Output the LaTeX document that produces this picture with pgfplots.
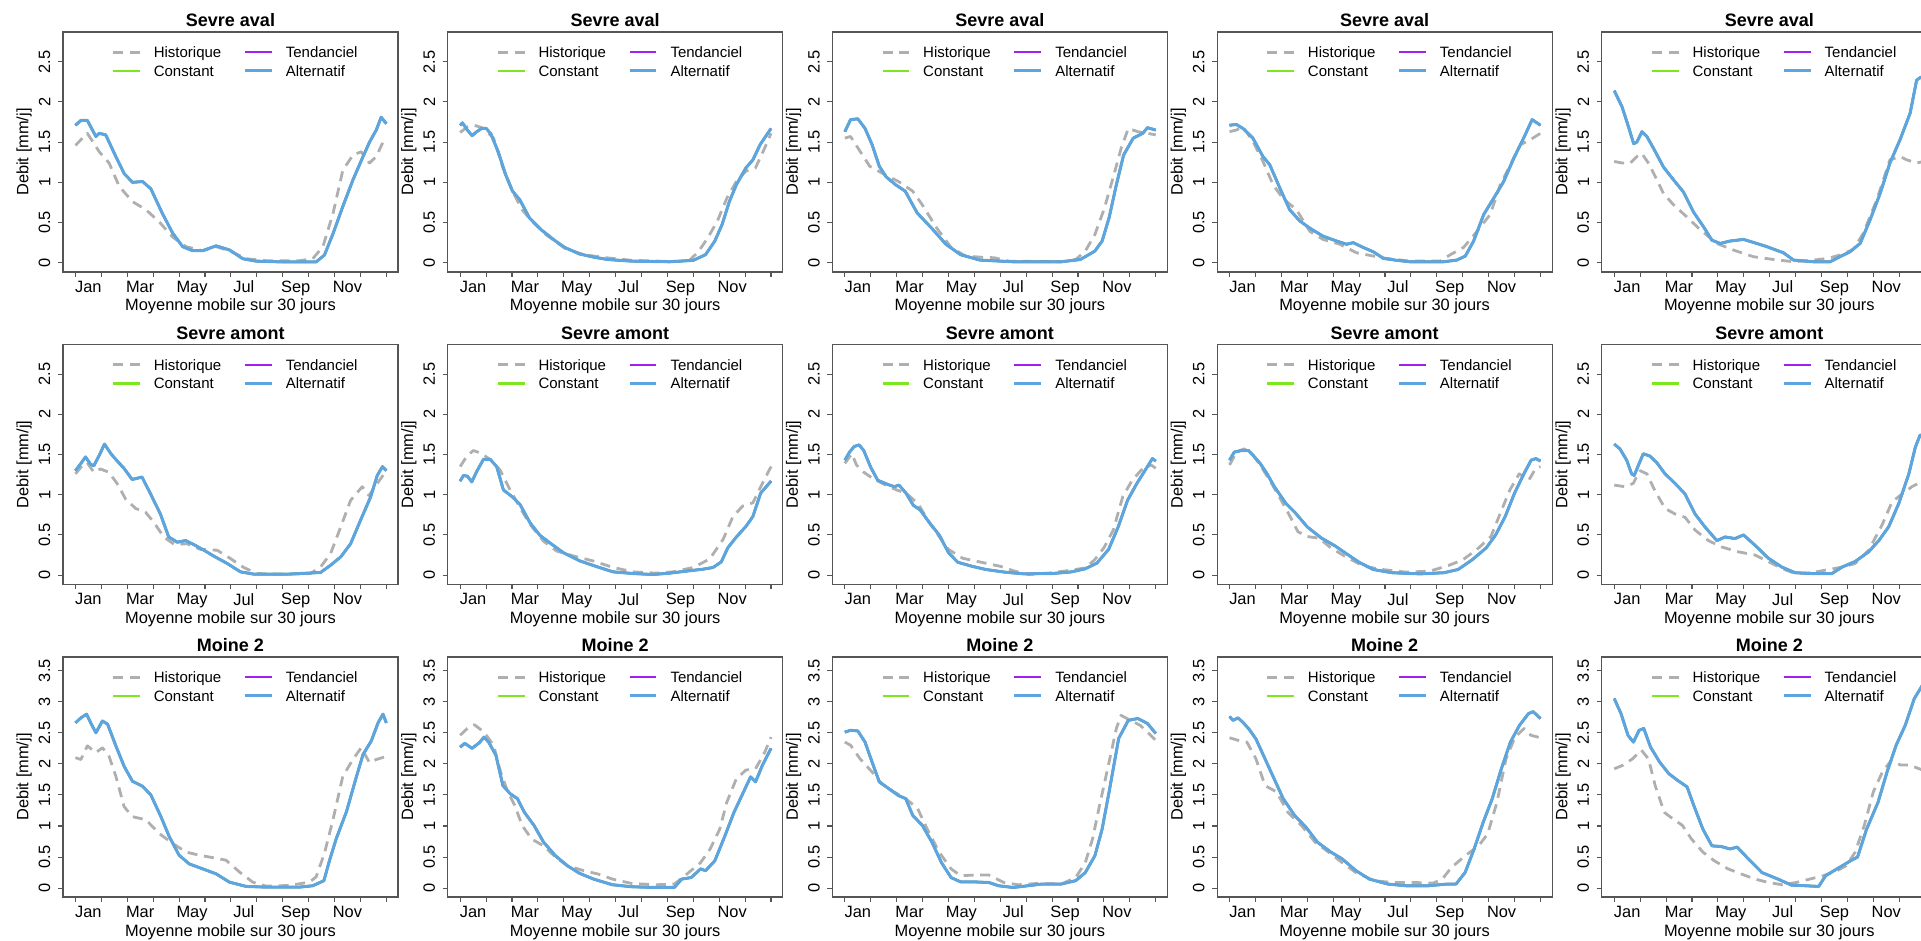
\documentclass[border=0pt]{standalone}
\usepackage{fontspec}
\setmainfont{Liberation Sans}
\usepackage{pgfplots}
\pgfplotsset{compat=1.18}
\usepackage{pgfplotstable}
\definecolor{histc}{RGB}{175,175,175}
\definecolor{tendc}{RGB}{160,32,240}
\definecolor{constc}{RGB}{124,230,30}
\definecolor{altc}{RGB}{92,165,225}
\definecolor{framec}{RGB}{85,85,85}

% ---------------- Row 1 : Sevre aval ----------------
\pgfplotstableread{
m v
0 1.46
0.46 1.61
0.92 1.38
1.30 1.24
1.69 0.95
2.20 0.76
2.72 0.66
3.23 0.51
3.75 0.32
4.27 0.20
4.91 0.15
5.43 0.20
5.94 0.15
6.59 0.05
7.36 0.025
8.65 0.025
9.16 0.05
9.55 0.20
9.94 0.61
10.32 1.15
10.71 1.34
11.03 1.38
11.35 1.24
11.61 1.32
11.87 1.50
12 1.46
}\hA
\pgfplotstableread{
m v
0 1.71
0.21 1.77
0.46 1.77
0.79 1.57
0.92 1.61
1.17 1.59
1.56 1.32
1.88 1.11
2.20 1.00
2.59 1.01
2.91 0.92
3.36 0.61
3.75 0.37
4.14 0.20
4.52 0.15
4.91 0.15
5.43 0.21
5.94 0.16
6.46 0.05
6.97 0.02
8.0 0.01
9.29 0.01
9.61 0.095
9.94 0.36
10.32 0.70
10.71 1.03
11.10 1.32
11.35 1.50
11.61 1.65
11.80 1.81
12 1.73
}\aA
\pgfplotstableread{
m v
0 1.62
0.28 1.69
0.55 1.71
0.92 1.67
1.29 1.55
1.65 1.18
2.02 0.89
2.39 0.66
2.76 0.52
3.31 0.35
4.04 0.18
4.78 0.10
5.70 0.06
6.62 0.03
8.09 0.016
8.82 0.02
9.19 0.135
9.56 0.31
9.93 0.52
10.29 0.80
10.66 1.01
11.03 1.14
11.40 1.18
11.76 1.43
12 1.61
}\hB
\pgfplotstableread{
m v
0 1.71
0.09 1.74
0.28 1.65
0.46 1.58
0.64 1.63
0.83 1.67
1.01 1.67
1.19 1.60
1.47 1.38
1.75 1.10
2.02 0.89
2.30 0.785
2.67 0.56
3.13 0.41
3.68 0.27
4.04 0.19
4.60 0.11
5.15 0.07
5.70 0.04
6.62 0.02
8.09 0.012
9.0 0.03
9.47 0.10
9.83 0.27
10.11 0.475
10.39 0.76
10.66 0.97
11.03 1.18
11.30 1.28
11.58 1.47
12 1.67
}\aB
\pgfplotstableread{
m v
0 1.55
0.22 1.57
0.5 1.43
0.96 1.20
1.52 1.10
2.07 1.01
2.62 0.89
2.99 0.72
3.55 0.43
4.10 0.19
4.66 0.083
5.21 0.07
5.77 0.062
6.32 0.02
8.35 0.012
8.91 0.04
9.28 0.145
9.65 0.35
10.02 0.68
10.39 1.10
10.67 1.43
10.94 1.67
11.31 1.63
11.68 1.61
12 1.59
}\hC
\pgfplotstableread{
m v
0 1.63
0.22 1.78
0.50 1.79
0.78 1.67
1.05 1.47
1.33 1.20
1.59 1.07
1.96 0.97
2.33 0.89
2.79 0.62
3.35 0.43
3.90 0.23
4.47 0.10
5.21 0.033
6.50 0.012
8.35 0.012
9.09 0.04
9.65 0.145
9.93 0.27
10.20 0.56
10.48 0.97
10.76 1.34
11.13 1.55
11.50 1.61
11.68 1.68
12 1.65
}\aC
\pgfplotstableread{
m v
0 1.63
0.26 1.65
0.52 1.69
0.90 1.51
1.29 1.26
1.68 0.97
2.06 0.80
2.58 0.66
3.10 0.39
3.61 0.29
4.26 0.23
4.90 0.124
5.55 0.083
6.06 0.054
6.97 0.02
8.13 0.02
8.52 0.10
9.03 0.19
9.55 0.39
10.06 0.60
10.45 0.97
10.84 1.22
11.23 1.47
11.61 1.53
12 1.61
}\hD
\pgfplotstableread{
m v
0 1.71
0.26 1.72
0.52 1.67
0.90 1.55
1.29 1.32
1.55 1.22
1.94 0.93
2.32 0.66
2.71 0.52
3.10 0.43
3.61 0.33
4.13 0.27
4.52 0.23
4.77 0.25
5.16 0.19
5.55 0.136
5.94 0.054
6.45 0.03
6.97 0.012
8.26 0.012
8.77 0.033
9.10 0.083
9.42 0.27
9.81 0.60
10.19 0.80
10.58 1.01
10.97 1.30
11.35 1.55
11.68 1.78
12 1.71
}\aD
\pgfplotstableread{
m v
0 1.26
0.30 1.24
0.62 1.24
0.87 1.32
1.06 1.36
1.32 1.24
1.65 1.03
1.90 0.86
2.29 0.72
2.80 0.57
3.32 0.41
3.96 0.24
4.60 0.158
5.37 0.075
6.14 0.041
6.92 0.012
7.69 0.033
8.23 0.054
8.71 0.095
9.23 0.166
9.61 0.365
10.13 0.78
10.64 1.28
11.03 1.32
11.29 1.28
11.67 1.24
11.95 1.26
}\hE
\pgfplotstableread{
m v
0 2.14
0.30 1.94
0.55 1.69
0.75 1.48
0.87 1.50
1.07 1.63
1.26 1.57
1.52 1.42
1.90 1.19
2.29 1.03
2.67 0.88
3.06 0.63
3.44 0.45
3.77 0.28
4.09 0.24
4.47 0.27
4.99 0.29
5.50 0.24
5.89 0.20
6.53 0.124
6.92 0.033
7.69 0.012
8.33 0.012
8.71 0.075
9.10 0.137
9.49 0.24
9.87 0.53
10.26 0.86
10.64 1.24
11.03 1.53
11.42 1.86
11.67 2.27
11.84 2.31
12 2.25
}\aE
% ---------------- Row 2 : Sevre amont ----------------
\pgfplotstableread{
m v
0 1.26
0.26 1.36
0.45 1.40
0.71 1.28
0.97 1.32
1.29 1.28
1.61 1.14
1.93 0.95
2.32 0.83
2.70 0.785
3.02 0.66
3.41 0.475
3.80 0.385
4.31 0.39
4.83 0.32
5.47 0.31
5.98 0.207
6.50 0.095
7.00 0.02
8.17 0.012
9.07 0.02
9.46 0.10
9.85 0.27
10.24 0.60
10.62 0.93
11.07 1.10
11.33 0.99
11.65 1.14
12 1.30
}\hF
\pgfplotstableread{
m v
0 1.30
0.19 1.38
0.39 1.47
0.58 1.38
0.71 1.36
0.95 1.51
1.12 1.63
1.37 1.51
1.61 1.42
1.87 1.33
2.19 1.19
2.57 1.22
2.90 1.01
3.28 0.76
3.60 0.475
3.93 0.41
4.25 0.43
4.57 0.38
4.96 0.31
5.35 0.235
5.86 0.145
6.37 0.041
6.89 0.012
8.17 0.012
9.46 0.033
9.85 0.124
10.24 0.227
10.62 0.39
11.00 0.68
11.39 0.97
11.65 1.24
11.85 1.35
12 1.30
}\aF
\pgfplotstableread{
m v
0 1.35
0.26 1.48
0.51 1.55
0.77 1.52
1.16 1.44
1.54 1.31
1.93 1.06
2.31 0.84
2.70 0.63
3.21 0.425
3.72 0.30
4.36 0.24
5.13 0.177
5.91 0.095
6.68 0.041
7.57 0.025
8.22 0.041
8.99 0.095
9.63 0.20
10.15 0.445
10.53 0.73
10.91 0.86
11.30 0.90
11.68 1.15
12 1.35
}\hG
\pgfplotstableread{
m v
0 1.17
0.13 1.24
0.28 1.23
0.45 1.16
0.64 1.29
0.90 1.44
1.16 1.44
1.41 1.35
1.67 1.06
1.99 0.98
2.31 0.88
2.70 0.65
3.08 0.495
3.47 0.40
3.98 0.28
4.62 0.177
5.26 0.107
5.90 0.041
6.68 0.02
7.44 0.008
8.09 0.025
8.73 0.05
9.37 0.074
9.76 0.095
10.08 0.165
10.33 0.34
10.65 0.47
11.04 0.61
11.30 0.73
11.60 1.02
12 1.17
}\aG
\pgfplotstableread{
m v
0 1.39
0.27 1.51
0.45 1.37
0.73 1.28
1.09 1.20
1.64 1.11
2.00 1.06
2.36 1.02
2.82 0.89
3.27 0.65
3.64 0.48
4.00 0.32
4.55 0.21
5.27 0.16
6.00 0.11
6.55 0.05
7.09 0.008
8.0 0.03
8.73 0.062
9.27 0.09
9.64 0.19
10.00 0.34
10.36 0.56
10.73 0.98
11.09 1.18
11.45 1.31
11.82 1.37
12 1.33
}\hH
\pgfplotstableread{
m v
0 1.43
0.18 1.53
0.36 1.60
0.55 1.62
0.73 1.55
1.00 1.34
1.27 1.18
1.64 1.13
1.91 1.10
2.09 1.12
2.36 1.02
2.64 0.87
2.91 0.81
3.27 0.65
3.64 0.50
4.00 0.28
4.36 0.16
4.91 0.11
5.45 0.07
6.18 0.037
6.91 0.016
8.0 0.02
8.73 0.04
9.27 0.078
9.73 0.15
10.18 0.32
10.55 0.60
10.91 0.93
11.27 1.14
11.64 1.33
11.87 1.45
12 1.42
}\aH
\pgfplotstableread{
m v
0 1.37
0.27 1.53
0.55 1.57
0.82 1.53
1.18 1.37
1.55 1.18
1.91 0.98
2.27 0.77
2.64 0.54
3.00 0.48
3.45 0.46
3.91 0.34
4.45 0.235
5.18 0.11
5.91 0.07
6.82 0.037
7.73 0.05
8.45 0.12
9.00 0.19
9.55 0.32
10.09 0.48
10.45 0.77
10.82 1.06
11.18 1.26
11.55 1.18
11.82 1.33
12 1.35
}\hI
\pgfplotstableread{
m v
0 1.43
0.18 1.53
0.45 1.55
0.73 1.55
0.91 1.49
1.18 1.39
1.45 1.26
1.73 1.10
2.18 0.89
2.55 0.77
3.00 0.60
3.55 0.46
4.09 0.36
4.45 0.28
5.00 0.16
5.55 0.07
6.27 0.03
7.36 0.016
8.27 0.03
8.82 0.07
9.36 0.19
9.91 0.34
10.27 0.50
10.64 0.73
11.00 1.02
11.36 1.26
11.64 1.43
11.82 1.45
12 1.42
}\aI
\pgfplotstableread{
m v
0 1.12
0.41 1.10
0.73 1.14
0.99 1.30
1.26 1.26
1.57 1.05
1.96 0.83
2.35 0.76
2.73 0.72
3.12 0.56
3.63 0.43
4.15 0.35
4.79 0.29
5.44 0.25
5.96 0.165
6.47 0.083
6.98 0.02
7.62 0.03
8.27 0.07
8.79 0.10
9.30 0.145
9.82 0.31
10.33 0.62
10.72 0.91
11.11 1.01
11.49 1.10
11.85 1.16
12 1.18
}\hJ
\pgfplotstableread{
m v
0 1.63
0.22 1.57
0.48 1.43
0.67 1.26
0.77 1.24
0.95 1.38
1.12 1.51
1.38 1.48
1.64 1.40
1.96 1.26
2.35 1.14
2.73 1.01
3.12 0.76
3.50 0.60
3.96 0.43
4.28 0.475
4.66 0.455
4.99 0.50
5.44 0.37
5.95 0.21
6.47 0.10
6.98 0.03
7.62 0.02
8.40 0.02
8.79 0.10
9.30 0.17
9.82 0.29
10.21 0.43
10.59 0.60
10.98 0.89
11.37 1.26
11.62 1.59
11.80 1.74
12 1.74
}\aJ
% ---------------- Row 3 : Moine 2 ----------------
\pgfplotstableread{
m v
0 2.10
0.21 2.07
0.46 2.29
0.79 2.18
1.04 2.26
1.30 2.12
1.56 1.80
1.88 1.31
2.20 1.15
2.72 1.10
3.23 0.88
3.75 0.72
4.27 0.58
4.78 0.53
5.30 0.49
5.81 0.45
6.33 0.26
6.84 0.097
7.36 0.032
8.27 0.043
9.03 0.097
9.29 0.18
9.61 0.56
9.94 1.10
10.32 1.80
10.71 2.07
11.03 2.26
11.35 2.02
11.61 2.07
12 2.12
}\hK
\pgfplotstableread{
m v
0 2.66
0.21 2.74
0.43 2.80
0.59 2.66
0.79 2.50
1.04 2.69
1.24 2.64
1.56 2.29
1.88 1.96
2.20 1.72
2.59 1.64
2.91 1.50
3.30 1.15
3.62 0.83
4.00 0.53
4.39 0.39
4.91 0.31
5.43 0.23
5.94 0.097
6.59 0.027
7.36 0.016
8.65 0.016
9.16 0.038
9.59 0.12
9.81 0.45
10.07 0.80
10.46 1.23
10.85 1.80
11.10 2.15
11.42 2.37
11.68 2.66
11.87 2.80
12 2.66
}\aK
\pgfplotstableread{
m v
0 2.46
0.28 2.57
0.55 2.63
0.83 2.54
1.01 2.46
1.29 2.30
1.56 1.87
1.84 1.55
2.11 1.33
2.39 1.01
2.76 0.79
3.22 0.68
3.68 0.50
4.14 0.36
4.78 0.28
5.33 0.226
5.88 0.145
6.62 0.075
7.54 0.054
8.27 0.065
8.82 0.25
9.28 0.41
9.65 0.63
10.02 0.95
10.29 1.38
10.66 1.76
11.03 1.90
11.40 1.92
11.76 2.19
12 2.43
}\hL
\pgfplotstableread{
m v
0 2.27
0.18 2.33
0.46 2.25
0.74 2.34
0.92 2.43
1.10 2.35
1.38 2.14
1.65 1.65
1.93 1.52
2.21 1.44
2.48 1.22
2.85 1.01
3.22 0.74
3.68 0.52
4.14 0.36
4.60 0.24
5.15 0.145
5.88 0.054
6.62 0.022
7.54 0.01
8.27 0.01
8.55 0.145
8.92 0.17
9.28 0.31
9.47 0.28
9.83 0.44
10.20 0.82
10.57 1.22
10.94 1.55
11.21 1.79
11.40 1.71
11.67 1.98
12 2.25
}\aL
\pgfplotstableread{
m v
0 2.35
0.22 2.30
0.59 2.08
1.05 1.87
1.42 1.68
1.89 1.55
2.35 1.44
2.81 1.28
3.18 0.95
3.64 0.58
4.10 0.31
4.47 0.20
5.01 0.21
5.56 0.21
6.14 0.09
6.69 0.054
7.43 0.075
8.35 0.065
8.91 0.17
9.28 0.41
9.56 0.79
9.83 1.33
10.20 2.03
10.48 2.57
10.66 2.78
11.03 2.70
11.40 2.62
11.68 2.51
12 2.38
}\hM
\pgfplotstableread{
m v
0 2.51
0.22 2.54
0.50 2.53
0.78 2.35
1.05 2.03
1.33 1.71
1.70 1.60
2.07 1.49
2.35 1.44
2.62 1.17
2.99 1.01
3.36 0.74
3.73 0.41
4.10 0.17
4.47 0.10
5.01 0.10
5.56 0.09
5.93 0.038
6.50 0.01
7.06 0.038
7.60 0.065
8.35 0.065
8.91 0.12
9.28 0.25
9.65 0.52
9.93 0.95
10.20 1.55
10.57 2.41
10.94 2.70
11.31 2.73
11.68 2.65
12 2.49
}\aM
\pgfplotstableread{
m v
0 2.42
0.32 2.38
0.67 2.35
1.02 2.08
1.37 1.65
1.81 1.55
2.25 1.22
2.77 1.01
3.30 0.74
3.82 0.58
4.35 0.41
4.88 0.25
5.58 0.12
6.28 0.09
7.16 0.09
7.86 0.08
8.21 0.145
8.56 0.33
9.09 0.52
9.61 0.68
9.96 0.87
10.32 1.38
10.67 2.08
11.02 2.43
11.37 2.57
11.63 2.46
12 2.42
}\hN
\pgfplotstableread{
m v
0 2.76
0.14 2.70
0.32 2.74
0.49 2.68
0.75 2.56
1.02 2.40
1.37 2.08
1.72 1.76
2.07 1.44
2.51 1.17
2.95 0.98
3.39 0.74
3.91 0.58
4.35 0.47
4.88 0.28
5.40 0.145
6.11 0.065
6.81 0.038
7.68 0.038
8.39 0.065
8.74 0.065
9.09 0.25
9.44 0.63
9.79 1.06
10.14 1.44
10.49 1.92
10.84 2.35
11.19 2.62
11.54 2.81
11.72 2.84
12 2.73
}\aN
\pgfplotstableread{
m v
0 1.92
0.35 1.98
0.70 2.08
1.05 2.22
1.32 2.08
1.58 1.65
1.93 1.22
2.28 1.11
2.63 1.01
2.98 0.79
3.42 0.58
3.86 0.44
4.39 0.31
4.91 0.226
5.44 0.145
5.96 0.09
6.49 0.054
7.02 0.09
7.54 0.145
8.07 0.20
8.60 0.28
8.95 0.36
9.30 0.58
9.65 1.01
10.00 1.55
10.35 1.87
10.70 2.06
11.05 1.98
11.40 1.98
11.90 1.90
}\hO
\pgfplotstableread{
m v
0 3.05
0.26 2.81
0.53 2.46
0.74 2.35
0.96 2.54
1.14 2.57
1.40 2.27
1.75 2.03
2.11 1.84
2.46 1.73
2.81 1.63
3.07 1.33
3.42 0.95
3.77 0.68
4.12 0.67
4.47 0.63
4.74 0.66
5.18 0.47
5.70 0.25
6.32 0.145
6.84 0.048
7.37 0.038
7.89 0.027
8.16 0.20
8.60 0.31
9.12 0.44
9.39 0.50
9.74 0.95
10.18 1.38
10.53 1.87
10.88 2.30
11.23 2.62
11.58 3.05
11.90 3.27
}\aO

\pgfplotsset{
  histline/.style={color=histc, line width=1.4pt, dash pattern=on 5pt off 3.35pt, line join=round},
  tendline/.style={color=tendc, line width=1.1pt, line join=round},
  constline/.style={color=constc, line width=1.3pt, line join=round},
  altline/.style={color=altc, line width=1.5pt, line join=round},
  rowA/.style={ymin=-0.115, ymax=2.87, ytick={0,0.5,1,1.5,2,2.5}},
  rowC/.style={ymin=-0.143, ymax=3.72, ytick={0,0.5,1,1.5,2,2.5,3,3.5}},
  panel/.style={
    scale only axis, width=167.5pt, height=120pt,
    xmin=-0.48, xmax=12.45,
    xtick={0.5,2.5,4.5,6.5,8.5,10.5},
    xticklabels={Jan,Mar,May,Jul,Sep,Nov},
    minor xtick={0,1,2,3,4,5,6,7,8,9,10,11,12},
    major x tick style={draw=none},
    tick align=outside,
    major tick length=2.5pt, minor tick length=2.5pt,
    xtick pos=lower, ytick pos=left,
    axis line style={framec, line width=0.55pt},
    tick style={framec, line width=0.55pt},
    /pgf/number format/assume math mode=true,
    tick label style={font=\fontsize{8.2}{9.8}\selectfont, inner sep=0pt},
    xticklabel style={anchor=north},
    yticklabel style={rotate=90, anchor=south},
    xticklabel shift=1.85pt,
    yticklabel shift=3.65pt,
    xlabel={Moyenne mobile sur 30 jours},
    ylabel={Debit [mm/j]},
    label style={font=\fontsize{8.2}{9.8}\selectfont},
    xlabel style={at={(axis description cs:0.5,-0.1625)}, anchor=base},
    ylabel style={at={(axis description cs:-0.103,0.5)}, anchor=base},
    every axis title shift=0pt,
    title style={at={(axis description cs:0.5,1)}, anchor=base, yshift=2.65pt, font=\bfseries\fontsize{9}{10.8}\selectfont},
    legend columns=2, legend cell align=left,
    legend image code/.code={\draw[##1] (0pt,0.75pt) -- (13.35pt,0.75pt);},
    legend style={draw=none, fill=none, at={(0.1454,0.9388)}, anchor=north west,
      inner xsep=0pt, inner ysep=0pt, outer sep=0pt,
      font=\fontsize{7.5}{9}\selectfont, cells={anchor=west},
      nodes={inner sep=0pt, text height=5.5pt, text depth=1.6pt},
      /tikz/row sep=2.25pt,
      /tikz/every odd column/.append style={column sep=6.3pt},
      /tikz/every even column/.append style={column sep=11.1pt}},
  }
}

\newcommand{\panel}[6]{%
\begin{axis}[panel, #4, at={(#1,#2)}, anchor=south west, title={#3}]
\addlegendimage{histline}\addlegendentry{Historique}
\addlegendimage{tendline}\addlegendentry{Tendanciel}
\addlegendimage{constline}\addlegendentry{Constant}
\addlegendimage{altline}\addlegendentry{Alternatif}
\addplot[histline, forget plot] table[x=m,y=v]{#5};
\addplot[constline, forget plot] table[x=m,y=v]{#6};
\addplot[tendline, forget plot] table[x=m,y=v]{#6};
\addplot[altline, forget plot] table[x=m,y=v]{#6};
\end{axis}}

\begin{document}
\begin{tikzpicture}
\path[use as bounding box] (0,0) rectangle (960.5pt,470.5pt);
\clip (0,0) rectangle (960.5pt,470.5pt);
\panel{31.5pt}{334.5pt}{Sevre aval}{rowA}{\hA}{\aA}
\panel{223.85pt}{334.5pt}{Sevre aval}{rowA}{\hB}{\aB}
\panel{416.2pt}{334.5pt}{Sevre aval}{rowA}{\hC}{\aC}
\panel{608.55pt}{334.5pt}{Sevre aval}{rowA}{\hD}{\aD}
\panel{800.9pt}{334.5pt}{Sevre aval}{rowA}{\hE}{\aE}
\panel{31.5pt}{178.3pt}{Sevre amont}{rowA}{\hF}{\aF}
\panel{223.85pt}{178.3pt}{Sevre amont}{rowA}{\hG}{\aG}
\panel{416.2pt}{178.3pt}{Sevre amont}{rowA}{\hH}{\aH}
\panel{608.55pt}{178.3pt}{Sevre amont}{rowA}{\hI}{\aI}
\panel{800.9pt}{178.3pt}{Sevre amont}{rowA}{\hJ}{\aJ}
\panel{31.5pt}{22pt}{Moine 2}{rowC}{\hK}{\aK}
\panel{223.85pt}{22pt}{Moine 2}{rowC}{\hL}{\aL}
\panel{416.2pt}{22pt}{Moine 2}{rowC}{\hM}{\aM}
\panel{608.55pt}{22pt}{Moine 2}{rowC}{\hN}{\aN}
\panel{800.9pt}{22pt}{Moine 2}{rowC}{\hO}{\aO}
\end{tikzpicture}
\end{document}
